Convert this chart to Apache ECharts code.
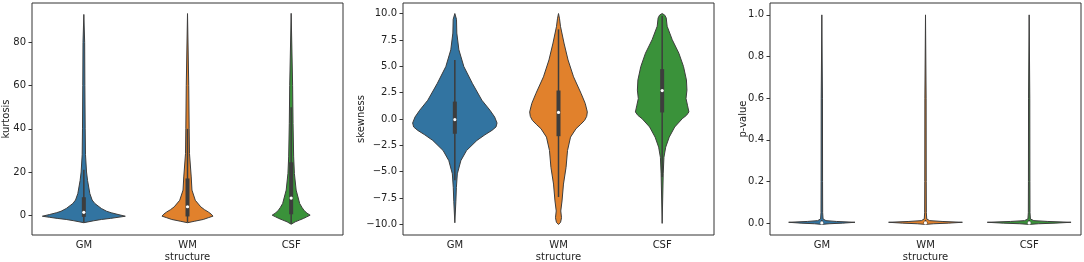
<!DOCTYPE html>
<html>
<head>
<meta charset="utf-8">
<script src="https://cdn.jsdelivr.net/npm/echarts@6/dist/echarts.min.js"></script>
<style>
  html, body { margin: 0; padding: 0; background: #fff; }
  #chart { width: 1084px; height: 262px; }
</style>
</head>
<body>
<div id="chart"></div>
<script>
const categories = ['GM', 'WM', 'CSF'];
const colors = ['#3274a1', '#e1812c', '#3a923a'];

// violin outlines: [value, half width as a fraction of the category band]
const kurtosisGM = [[93, 0], [80, 0.008], [60, 0.01], [40, 0.013], [28, 0.016], [20, 0.026], [16, 0.036], [10, 0.058], [7, 0.08], [5.4, 0.106], [3.1, 0.169], [1.8, 0.22], [1.1, 0.265], [0.3, 0.33], [-0.5, 0.4], [-1.0, 0.33], [-1.5, 0.257], [-2.0, 0.17], [-2.6, 0.096], [-3.5, 0]];
const kurtosisWM = [[93.4, 0], [60, 0.012], [40, 0.016], [28.6, 0.019], [17.7, 0.036], [11.6, 0.043], [6.9, 0.075], [3.85, 0.128], [2.5, 0.165], [1.5, 0.2], [0.5, 0.228], [-0.46, 0.246], [-1.2, 0.2], [-2.0, 0.152], [-2.8, 0.07], [-3.5, 0]];
const kurtosisCSF = [[93.5, 0], [60, 0.014], [42.5, 0.018], [27, 0.024], [19.3, 0.031], [11.6, 0.048], [5.4, 0.082], [3.5, 0.105], [2.3, 0.123], [1.0, 0.15], [0, 0.183], [-0.8, 0.15], [-1.5, 0.12], [-2.3, 0.08], [-3.1, 0.039], [-4.2, 0]];

const skewnessGM = [[10, 0], [9.45, 0.016], [8.15, 0.019], [6.56, 0.039], [4.97, 0.087], [3.38, 0.169], [1.78, 0.261], [0.83, 0.339], [0.19, 0.384], [-0.38, 0.407], [-0.76, 0.397], [-1.08, 0.358], [-1.5, 0.29], [-2.03, 0.213], [-2.99, 0.113], [-3.95, 0.058], [-5.2, 0.024], [-6.5, 0.015], [-7.8, 0.01], [-9.84, 0]];
const skewnessWM = [[10, 0], [9.5, 0.01], [8.79, 0.019], [7.2, 0.053], [5.6, 0.092], [4.0, 0.145], [2.42, 0.218], [1.47, 0.258], [0.67, 0.278], [0.25, 0.272], [-0.13, 0.252], [-0.5, 0.215], [-0.92, 0.169], [-1.72, 0.116], [-2.99, 0.087], [-4.58, 0.073], [-6.17, 0.048], [-7.77, 0.034], [-8.72, 0.022], [-9.36, 0.029], [-9.8, 0.02], [-10, 0]];
const skewnessCSF = [[10, 0], [9.85, 0.025], [9.58, 0.039], [8.79, 0.048], [7.52, 0.097], [6.24, 0.161], [4.97, 0.206], [3.7, 0.234], [2.74, 0.239], [1.94, 0.23], [1.31, 0.244], [0.67, 0.258], [0.35, 0.235], [0.03, 0.194], [-0.76, 0.121], [-1.72, 0.068], [-2.67, 0.034], [-3.63, 0.017], [-5.2, 0.01], [-9.9, 0]];

const pvalueGM = [[1.0, 0], [0.6, 0.006], [0.2, 0.007], [0.05, 0.008], [0.02, 0.012], [0.012, 0.04], [0.008, 0.14], [0.004, 0.32], [0.0, 0.2], [-0.003, 0.07], [-0.006, 0]];
const pvalueWM = [[1.0, 0], [0.6, 0.006], [0.2, 0.007], [0.05, 0.008], [0.02, 0.012], [0.012, 0.04], [0.008, 0.16], [0.004, 0.356], [0.0, 0.22], [-0.003, 0.08], [-0.006, 0]];
const pvalueCSF = [[1.0, 0], [0.6, 0.006], [0.2, 0.007], [0.05, 0.008], [0.02, 0.012], [0.012, 0.045], [0.008, 0.18], [0.004, 0.404], [0.0, 0.25], [-0.003, 0.09], [-0.006, 0]];

// inner box: [lower whisker, q1, median, q3, upper whisker]
const kurtosisBox = [[-3.4, -0.8, 1.3, 8.3, 21], [-3.4, -0.6, 3.9, 17, 40], [-4, 0.4, 7.9, 24.5, 50]];
const skewnessBox = [[-5.8, -1.4, -0.05, 1.65, 5.6], [-7.4, -1.63, 0.62, 2.7, 8.5], [-5.5, 0.62, 2.7, 4.73, 9.8]];
const pvalueBox = [[0, 0, 0.001, 0.006, 0.015], [0, 0, 0.001, 0.006, 0.015], [0, 0, 0.001, 0.006, 0.015]];

const kurtosisTicks = [0, 20, 40, 60, 80];
const skewnessTicks = [-10, -7.5, -5, -2.5, 0, 2.5, 5, 7.5, 10];
const pvalueTicks = [0, 0.2, 0.4, 0.6, 0.8, 1.0];

const fontFamily = 'DejaVu Sans';
const gray = '#3d3d3d';

const panels = [
  { name: 'kurtosis', profiles: [kurtosisGM, kurtosisWM, kurtosisCSF], boxes: kurtosisBox, ticks: kurtosisTicks,
    min: -9.2, max: 98.3, digits: 0, left: 32, nameGap: 21 },
  { name: 'skewness', profiles: [skewnessGM, skewnessWM, skewnessCSF], boxes: skewnessBox, ticks: skewnessTicks,
    min: -11, max: 11, digits: 1, left: 403, nameGap: 37 },
  { name: 'p-value', profiles: [pvalueGM, pvalueWM, pvalueCSF], boxes: pvalueBox, ticks: pvalueTicks,
    min: -0.057, max: 1.057, digits: 1, left: 770, nameGap: 22 }
];

function makeRenderItem(panel) {
  return function (params, api) {
    const k = api.value(0);
    const prof = panel.profiles[k];
    const box = panel.boxes[k];
    const band = api.size([1, 0])[0];
    const cx = api.coord([k, 0])[0];
    const y = v => api.coord([k, v])[1];
    const pts = [];
    prof.forEach(([v, w]) => pts.push([cx + w * band, y(v)]));
    prof.slice().reverse().forEach(([v, w]) => pts.push([cx - w * band, y(v)]));
    return {
      type: 'group',
      children: [
        { type: 'polygon', shape: { points: pts }, style: { fill: colors[k], stroke: gray, lineWidth: 1 } },
        { type: 'line', shape: { x1: cx, y1: y(box[0]), x2: cx, y2: y(box[4]) }, style: { stroke: gray, lineWidth: 1.5 } },
        { type: 'line', shape: { x1: cx, y1: y(box[1]), x2: cx, y2: y(box[3]) }, style: { stroke: gray, lineWidth: 4 } },
        { type: 'circle', shape: { cx: cx, cy: y(box[2]), r: 1.6 }, style: { fill: '#fff' } }
      ]
    };
  };
}

function buildOption() {
  const textStyle = { color: '#222', fontSize: 10, fontFamily: fontFamily };
  return {
    animation: false,
    grid: panels.map(p => ({
      left: p.left, top: 3, width: 311, height: 232,
      containLabel: false, outerBoundsMode: 'none',
      show: true, borderColor: '#333', borderWidth: 1, backgroundColor: '#fff'
    })),
    xAxis: panels.map((p, i) => ({
      type: 'category', gridIndex: i, data: categories,
      axisLine: { show: false },
      axisTick: { alignWithLabel: true, length: 3.5, lineStyle: { color: '#333' } },
      axisLabel: Object.assign({ margin: 5 }, textStyle),
      name: 'structure', nameLocation: 'middle', nameGap: 17.5, nameMoveOverlap: false,
      nameTextStyle: textStyle
    })),
    yAxis: panels.map((p, i) => ({
      type: 'value', gridIndex: i, min: p.min, max: p.max,
      axisLine: { show: false },
      splitLine: { show: false },
      axisTick: { show: true, length: 3.5, customValues: p.ticks, lineStyle: { color: '#333' } },
      axisLabel: Object.assign({
        margin: 6, customValues: p.ticks,
        formatter: v => v.toFixed(p.digits).replace('-', '\u2212')
      }, textStyle),
      name: p.name, nameLocation: 'middle', nameRotate: 90, nameGap: p.nameGap, nameMoveOverlap: false,
      nameTextStyle: textStyle
    })),
    series: panels.map((p, i) => ({
      type: 'custom', xAxisIndex: i, yAxisIndex: i,
      renderItem: makeRenderItem(p),
      data: categories.map((c, k) => [k, p.boxes[k][2]])
    }))
  };
}

const chart = echarts.init(document.getElementById('chart'));
chart.setOption(buildOption());
window.addEventListener('resize', () => chart.resize());
</script>
</body>
</html>
